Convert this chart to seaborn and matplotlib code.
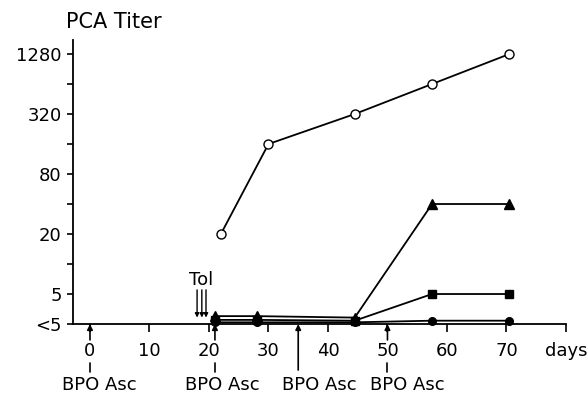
import matplotlib
matplotlib.use("Agg")
import matplotlib.pyplot as plt
import matplotlib.ticker as mticker
import numpy as np
import pandas as pd
import seaborn as sns

# titer "<5" is drawn on the baseline, one doubling below 5
BASE = 2.5

# PCA titer series (days after first BPO-Asc injection)
open_circle_days = [22, 30, 44.5, 57.5, 70.5]
open_circle_titer = [20, 160, 320, 640, 1280]

triangle_days = [21, 28, 44.5, 57.5, 70.5]
triangle_titer = [3.0, 3.0, 2.9, 40, 40]

square_days = [21, 28, 44.5, 57.5, 70.5]
square_titer = [2.75, 2.75, 2.7, 5, 5]

dot_days = [21, 28, 44.5, 57.5, 70.5]
dot_titer = [2.6, 2.6, 2.6, 2.7, 2.7]

# injections
bpo_days = [0, 21, 35, 50]
tol_days = [18, 18.8, 19.5]

y_ticks = [BASE, 5, 20, 80, 320, 1280]
y_labels = ["<5", "5", "20", "80", "320", "1280"]
y_minor = [10, 40, 160, 640]
x_ticks = [0, 10, 20, 30, 40, 50, 60, 70, 80]
x_labels = ["0", "10", "20", "30", "40", "50", "60", "70", "days"]

sns.set_style("ticks")
plt.rcParams["font.family"] = ["DejaVu Sans"]
plt.rcParams.update({"text.color": "black", "axes.edgecolor": "black",
                     "xtick.color": "black", "ytick.color": "black",
                     "axes.labelcolor": "black"})

fig = plt.figure(figsize=(5.88, 3.95), dpi=100)
ax = fig.add_axes([0.1241, 0.1797, 0.8384, 0.719])

series = [
    (open_circle_days, open_circle_titer, "o", "white", 6.5),
    (triangle_days, triangle_titer, "^", "black", 6.5),
    (square_days, square_titer, "s", "black", 5.5),
    (dot_days, dot_titer, "o", "black", 5.5),
]
for days, titer, marker, face, size in series:
    df = pd.DataFrame({"day": days, "titer": titer})
    sns.lineplot(data=df, x="day", y="titer", ax=ax, color="black",
                 marker=marker, markerfacecolor=face, markeredgecolor="black",
                 markeredgewidth=1.0, markersize=size, linewidth=1.3,
                 clip_on=False, zorder=3)

ax.set_yscale("log", base=2)
ax.set_ylim(BASE, 1769)
ax.set_xlim(-2.86, 80)
ax.yaxis.set_major_locator(mticker.FixedLocator(y_ticks))
ax.yaxis.set_major_formatter(mticker.FixedFormatter(y_labels))
ax.yaxis.set_minor_locator(mticker.FixedLocator(y_minor))
ax.yaxis.set_minor_formatter(mticker.NullFormatter())
ax.xaxis.set_major_locator(mticker.FixedLocator(x_ticks))
ax.xaxis.set_major_formatter(mticker.FixedFormatter(x_labels))
ax.xaxis.set_minor_locator(mticker.NullLocator())

ax.tick_params(axis="x", length=6, width=1.2, pad=7, labelsize=13,
               colors="black")
ax.tick_params(axis="y", which="major", length=4, width=1.2, pad=4,
               labelsize=13, colors="black")
ax.tick_params(axis="y", which="minor", length=4, width=1.2, colors="black")
ax.set_xlabel("")
ax.set_ylabel("")
sns.despine(ax=ax)
for side in ["left", "bottom"]:
    ax.spines[side].set_linewidth(1.3)
    ax.spines[side].set_color("black")

trans = ax.get_xaxis_transform()

# BPO Asc injection arrows below the axis
label_shift = [-4.7, -5.0, -2.7, -3.0]
for i, d in enumerate(bpo_days):
    tail = -0.162 if d == 35 else -0.056
    ax.annotate("", xy=(d, 0), xycoords=trans, xytext=(d, tail),
                textcoords=trans, annotation_clip=False,
                arrowprops=dict(arrowstyle="-|>", color="black", lw=1.2,
                                mutation_scale=8, shrinkA=0, shrinkB=0))
    if d != 35:
        ax.plot([d, d], [-0.137, -0.169], transform=trans, color="black",
                lw=1.2, clip_on=False)
    ax.text(d + label_shift[i], -0.215, "BPO Asc", transform=trans,
            ha="left", va="center", fontsize=13, color="black")

# Tol injection arrows
for d in tol_days:
    ax.annotate("", xy=(d, 2.9), xytext=(d, 5.5), annotation_clip=False,
                arrowprops=dict(arrowstyle="-|>", color="black", lw=1.0,
                                mutation_scale=6, shrinkA=0, shrinkB=0))
ax.text(18.7, 6.9, "Tol", ha="center", va="center", fontsize=13,
        color="black")

fig.text(0.194, 0.944, "PCA Titer", ha="center", va="center", fontsize=15,
         color="black")

fig.savefig("out.png", dpi=100)
